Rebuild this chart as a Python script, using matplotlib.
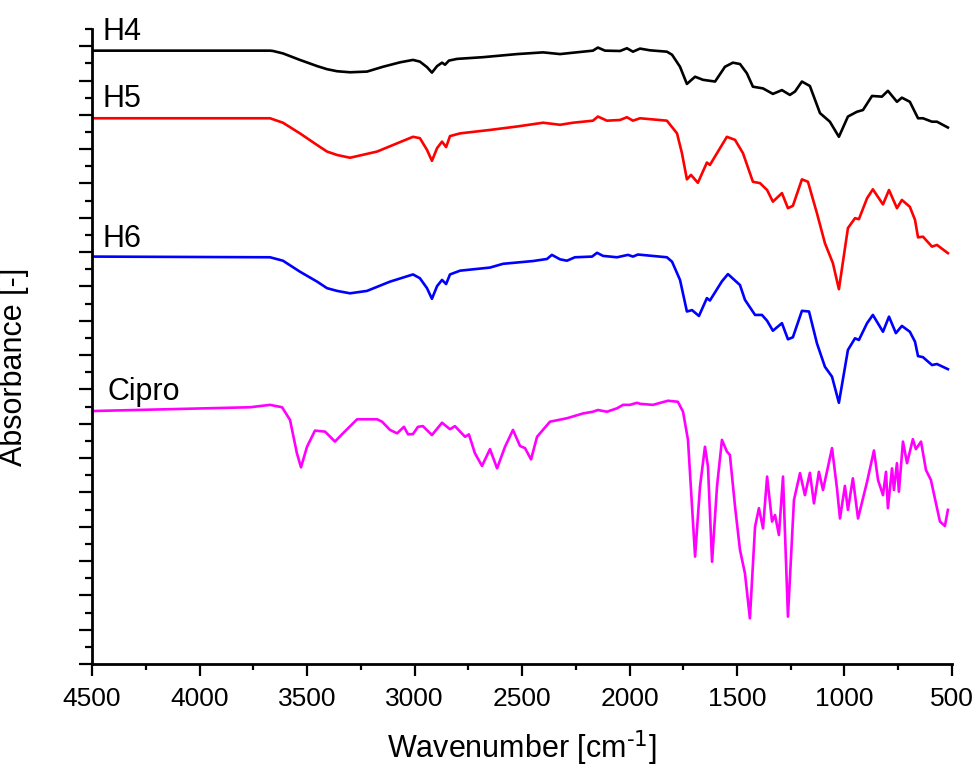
import matplotlib
matplotlib.use("Agg")
import matplotlib.pyplot as plt
from matplotlib.ticker import MultipleLocator, NullFormatter

plt.rcParams['font.family'] = ['Liberation Sans', 'DejaVu Sans']

# H4 - black
h4_wn = [4500, 3672, 3658, 3612, 3533, 3453, 3407, 3360, 3300, 3221, 3147, 3067, 3007, 2975, 2942, 2919,
         2895, 2872, 2858, 2840, 2802, 2681, 2523, 2402, 2323, 2263, 2170, 2147, 2114, 2044, 2012, 1984,
         1951, 1905, 1826, 1802, 1765, 1733, 1695, 1658, 1602, 1556, 1519, 1486, 1454, 1426, 1379, 1333,
         1291, 1254, 1230, 1198, 1161, 1114, 1068, 1026, 984, 942, 914, 872, 826, 798, 756, 733, 696,
         658, 635, 593, 570, 519]
h4_ab = [17.87, 17.87, 17.86, 17.79, 17.60, 17.42, 17.33, 17.27, 17.24, 17.26, 17.40, 17.53, 17.60, 17.55, 17.39, 17.23,
         17.42, 17.52, 17.46, 17.58, 17.63, 17.68, 17.77, 17.82, 17.77, 17.81, 17.87, 17.96, 17.87, 17.86, 17.94, 17.84,
         17.93, 17.88, 17.84, 17.75, 17.40, 16.90, 17.11, 17.02, 16.97, 17.40, 17.52, 17.48, 17.21, 16.82, 16.77, 16.61,
         16.72, 16.58, 16.68, 16.97, 16.84, 16.05, 15.80, 15.36, 15.95, 16.09, 16.14, 16.55, 16.53, 16.70, 16.38, 16.50, 16.38,
         15.90, 15.90, 15.80, 15.80, 15.63]

# H5 - red
h5_wn = [4500, 3672, 3612, 3533, 3453, 3407, 3360, 3300, 3174, 3081, 3007, 2975, 2942, 2919, 2895, 2872,
         2853, 2835, 2788, 2649, 2523, 2402, 2323, 2263, 2170, 2147, 2105, 2044, 2012, 1984, 1951, 1826,
         1779, 1756, 1733, 1714, 1682, 1640, 1626, 1547, 1509, 1472, 1426, 1393, 1360, 1333, 1291, 1263,
         1240, 1198, 1170, 1128, 1091, 1054, 1026, 984, 951, 933, 895, 868, 821, 793, 756, 733, 696, 672,
         658, 635, 593, 570, 519]
h5_ab = [15.90, 15.90, 15.77, 15.46, 15.12, 14.93, 14.83, 14.75, 14.93, 15.17, 15.36, 15.32, 14.98, 14.66, 15.03, 15.22,
         15.06, 15.38, 15.46, 15.56, 15.66, 15.77, 15.71, 15.77, 15.83, 15.95, 15.83, 15.85, 15.93, 15.83, 15.90, 15.83,
         15.46, 14.88, 14.12, 14.25, 14.02, 14.61, 14.54, 15.36, 15.27, 14.88, 14.05, 14.01, 13.81, 13.47, 13.72, 13.28,
         13.35, 14.12, 14.05, 13.13, 12.26, 11.68, 10.92, 12.70, 12.99, 12.96, 13.57, 13.83, 13.39, 13.81, 13.28, 13.52,
         13.32, 12.94, 12.43, 12.45, 12.16, 12.21, 11.97]

# H6 - blue
h6_wn = [4500, 3672, 3612, 3533, 3453, 3407, 3360, 3300, 3221, 3114, 3007, 2975, 2942, 2919, 2895, 2872,
         2853, 2835, 2788, 2649, 2588, 2449, 2384, 2361, 2323, 2291, 2254, 2174, 2151, 2123, 2058, 2007,
         1984, 1961, 1826, 1802, 1765, 1733, 1709, 1677, 1640, 1626, 1570, 1542, 1486, 1463, 1416, 1384,
         1360, 1333, 1291, 1263, 1240, 1198, 1165, 1128, 1091, 1058, 1026, 984, 951, 933, 895, 868, 821,
         793, 761, 733, 696, 672, 658, 635, 593, 570, 519]
h6_ab = [11.87, 11.85, 11.75, 11.43, 11.14, 10.95, 10.87, 10.80, 10.87, 11.14, 11.35, 11.24, 10.95, 10.64, 11.01, 11.19,
         11.07, 11.35, 11.46, 11.55, 11.66, 11.74, 11.80, 11.92, 11.79, 11.75, 11.85, 11.87, 11.98, 11.89, 11.85, 11.92,
         11.87, 11.93, 11.85, 11.72, 11.19, 10.27, 10.31, 10.14, 10.66, 10.59, 11.15, 11.36, 11.04, 10.61, 10.17, 10.17,
         10.00, 9.71, 9.93, 9.46, 9.52, 10.29, 10.27, 9.34, 8.66, 8.37, 7.61, 9.15, 9.49, 9.44, 9.93, 10.17, 9.68,
         10.12, 9.64, 9.85, 9.68, 9.39, 8.97, 8.94, 8.71, 8.74, 8.59]

# Cipro - magenta
cip_wn = [4500, 3765, 3672, 3616, 3579, 3547, 3528, 3500, 3463, 3416, 3370, 3333, 3267, 3174, 3151, 3114,
          3081, 3049, 3030, 3007, 2984, 2961, 2919, 2872, 2835, 2812, 2765, 2747, 2719, 2686, 2649, 2616,
          2579, 2542, 2509, 2486, 2458, 2430, 2370, 2291, 2216, 2170, 2147, 2105, 2058, 2030, 1998, 1965,
          1951, 1891, 1821, 1775, 1751, 1728, 1695, 1672, 1649, 1635, 1616, 1593, 1570, 1547, 1533, 1509,
          1486, 1463, 1440, 1416, 1398, 1379, 1360, 1337, 1323, 1305, 1286, 1263, 1235, 1207, 1184, 1161,
          1142, 1119, 1100, 1058, 1035, 1021, 998, 984, 961, 937, 895, 863, 844, 821, 807, 798, 779, 770,
          756, 747, 728, 709, 682, 668, 644, 621, 598, 556, 533, 519]
cip_ab = [7.37, 7.48, 7.55, 7.48, 7.11, 6.14, 5.73, 6.33, 6.80, 6.77, 6.48, 6.72, 7.13, 7.13, 7.06, 6.82,
          6.72, 6.91, 6.69, 6.70, 6.91, 6.93, 6.67, 7.03, 6.84, 6.93, 6.62, 6.69, 6.14, 5.77, 6.26, 5.70,
          6.33, 6.82, 6.35, 6.29, 5.96, 6.62, 7.06, 7.16, 7.30, 7.35, 7.40, 7.35, 7.45, 7.55, 7.55, 7.61,
          7.58, 7.55, 7.67, 7.64, 7.35, 6.53, 3.13, 5.17, 6.33, 5.75, 2.98, 5.17, 6.53, 6.19, 6.09, 4.58,
          3.32, 2.64, 1.33, 4.00, 4.54, 3.95, 5.46, 4.15, 4.34, 3.76, 5.46, 1.38, 4.78, 5.56, 4.92, 5.57,
          4.68, 5.60, 5.07, 6.29, 5.12, 4.24, 5.19, 4.49, 5.41, 4.24, 5.31, 6.22, 5.36, 4.92, 5.60, 4.54, 5.70, 5.07,
          5.85, 5.02, 6.48, 5.85, 6.55, 6.26, 6.48, 5.65, 5.36, 4.15, 4.02, 4.49]

labels = ["H4", "H5", "H6", "Cipro"]
label_x = [4450, 4450, 4450, 4430]
label_y = [18.18, 16.23, 12.15, 7.69]

fig = plt.figure(figsize=(9.78, 7.72), dpi=100)
ax = fig.add_axes([0.0941, 0.1399, 0.8793, 0.8225])

lw = 1.9
ax.plot(h4_wn, h4_ab, color='black', lw=lw)
ax.plot(h5_wn, h5_ab, color='#ff0000', lw=lw)
ax.plot(h6_wn, h6_ab, color='#0000ff', lw=lw)
ax.plot(cip_wn, cip_ab, color='#ff00ff', lw=lw)

for t, x, y in zip(labels, label_x, label_y):
    ax.text(x, y, t, fontsize=22, va='baseline', ha='left')

ax.set_xlim(4500, 500)
ax.set_ylim(0, 18.5)

for s in ['top', 'right']:
    ax.spines[s].set_visible(False)
for s in ['left', 'bottom']:
    ax.spines[s].set_linewidth(2.0)

ax.xaxis.set_major_locator(MultipleLocator(500))
ax.xaxis.set_minor_locator(MultipleLocator(250))
ax.yaxis.set_major_locator(MultipleLocator(1))
ax.yaxis.set_minor_locator(MultipleLocator(0.5))
ax.yaxis.set_major_formatter(NullFormatter())

ax.tick_params(axis='x', which='major', direction='out', length=8.6, width=1.6, labelsize=19, pad=8)
ax.tick_params(axis='x', which='minor', direction='out', length=4.3, width=1.6)
ax.tick_params(axis='y', which='major', direction='out', length=9.3, width=1.6)
ax.tick_params(axis='y', which='minor', direction='out', length=5.0, width=1.6)

ax.set_xlabel(r"Wavenumber [cm$^{\text{-1}}$]", fontsize=22)
ax.set_ylabel("Absorbance [-]", fontsize=22)
ax.yaxis.set_label_coords(-0.073, 0.468)
ax.xaxis.set_label_coords(0.5, -0.101)

fig.savefig("out.png", dpi=100)
